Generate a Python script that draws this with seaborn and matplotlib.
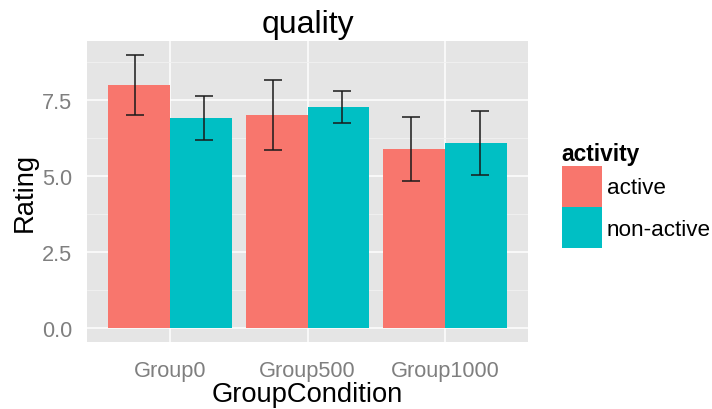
import numpy as np
import pandas as pd
import matplotlib
matplotlib.use("Agg")
import matplotlib.pyplot as plt
import seaborn as sns
from matplotlib.ticker import MultipleLocator

groups = ["Group0", "Group500", "Group1000"]
activities = ["active", "non-active"]
active_mean = [8.0, 7.0, 5.89]
nonactive_mean = [6.91, 7.28, 6.08]
active_err = [1.0, 1.15, 1.04]
nonactive_err = [0.735, 0.52, 1.05]
colors = ["#F8766D", "#00BFC4"]

df = pd.DataFrame({
    "GroupCondition": groups * 2,
    "activity": ["active"] * 3 + ["non-active"] * 3,
    "Rating": active_mean + nonactive_mean,
    "err": active_err + nonactive_err,
})

sns.set_style("white")
plt.rcParams["font.family"] = ["Liberation Sans", "DejaVu Sans"]
plt.rcParams["text.color"] = "black"
plt.rcParams["axes.labelcolor"] = "black"

fig = plt.figure(figsize=(7.12, 4.10), dpi=100)
ax = fig.add_axes([87.3 / 712, 1 - 343.3 / 410, (527.7 - 87.3) / 712, (343.3 - 41.7) / 410])

sns.barplot(data=df, x="GroupCondition", y="Rating", hue="activity",
            order=groups, hue_order=activities, palette=colors,
            errorbar=None, width=0.9, saturation=1, linewidth=0, ax=ax)

# error bars (dodged like ggplot position_dodge)
for i, act in enumerate(activities):
    sub = df[df["activity"] == act].set_index("GroupCondition").loc[groups]
    xs = np.arange(len(groups)) + (-0.25 if i == 0 else 0.25)
    ax.errorbar(xs, sub["Rating"], yerr=sub["err"], fmt="none",
                ecolor="#1a1a1a", elinewidth=1.1, capsize=6.8, capthick=1.1, zorder=5)

ax.set_facecolor("#E5E5E5")
ax.set_xlim(-0.6, 2.6)
ax.set_ylim(-0.475, 9.455)
ax.yaxis.set_major_locator(MultipleLocator(2.5))
ax.yaxis.set_minor_locator(MultipleLocator(1.25))
ax.set_yticks([0, 2.5, 5.0, 7.5])
ax.set_yticklabels(["0.0", "2.5", "5.0", "7.5"])
ax.grid(True, which="major", color="white", linewidth=1.1)
ax.grid(True, which="minor", axis="y", color="#F2F2F2", linewidth=0.6)
ax.set_axisbelow(True)
for s in ax.spines.values():
    s.set_visible(False)
ax.tick_params(axis="both", which="major", length=6, width=0.8, color="#7F7F7F",
               labelcolor="#7F7F7F", labelsize=15.7)
ax.tick_params(axis="x", which="major", pad=6.5)
ax.tick_params(axis="y", which="major", pad=5)
ax.tick_params(axis="y", which="minor", length=0)

ax.set_title("quality", fontsize=23, pad=6, color="black")
ax.set_xlabel("GroupCondition", fontsize=19.7, labelpad=0, color="black")
ax.set_ylabel("Rating", fontsize=19.7, labelpad=3, color="black")

handles, labels = ax.get_legend_handles_labels()
ax.get_legend().remove()
leg = fig.legend(handles, labels, title="activity", loc="upper left",
                 bbox_to_anchor=(557 / 712, 1 - 139 / 410), frameon=False,
                 fontsize=16.2, title_fontsize=16.4, handlelength=1.8, handleheight=2.46,
                 labelspacing=0.0, handletextpad=0.2, borderpad=0.2, borderaxespad=0,
                 alignment="left")
leg.get_title().set_fontweight("bold")

fig.savefig("out.png", dpi=100)
